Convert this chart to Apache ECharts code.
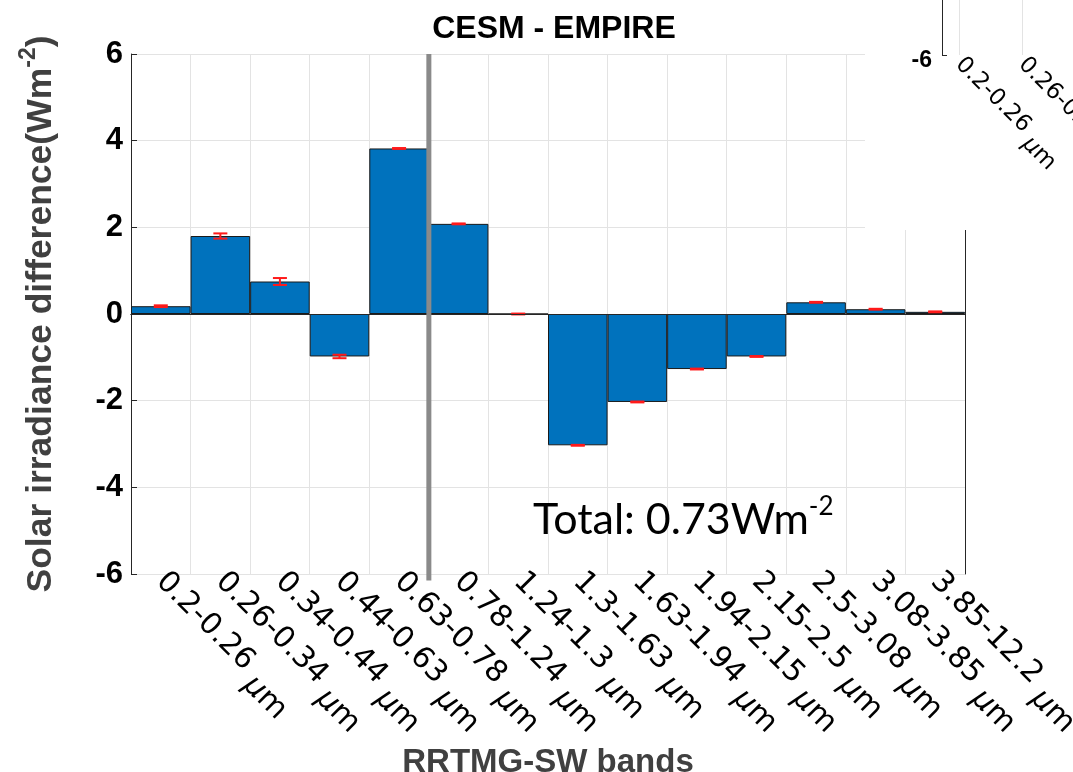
<!DOCTYPE html>
<html>
<head>
<meta charset="utf-8">
<script src="https://cdn.jsdelivr.net/npm/echarts@6/dist/echarts.min.js"></script>
<style>
  html, body { margin: 0; padding: 0; background: #ffffff; }
  #chart { width: 1073px; height: 772px; }
</style>
</head>
<body>
<div id="chart"></div>
<script>
// RRTMG shortwave bands (µm)
const bands = ['0.2-0.26', '0.26-0.34', '0.34-0.44', '0.44-0.63', '0.63-0.78', '0.78-1.24', '1.24-1.3',
               '1.3-1.63', '1.63-1.94', '1.94-2.15', '2.15-2.5', '2.5-3.08', '3.08-3.85', '3.85-12.2'];
// CESM minus EMPIRE solar irradiance difference per band (W m-2)
const diff = [0.18, 1.80, 0.75, -0.98, 3.82, 2.08, 0.00, -3.03, -2.03, -1.27, -0.98, 0.27, 0.11, 0.05];
// half-length of the error bar per band
const spread = [0.02, 0.06, 0.08, 0.04, 0.01, 0.01, 0.01, 0.01, 0.01, 0.01, 0.01, 0.01, 0.01, 0.01];
// y-axis range and step
const yRange = [-6, 6];
const yStep = 2;
// band boundary where the vertical divider sits
const dividerAt = 5;
const totalText = 'Total: 0.73Wm';

const AX = '#262626';
const GRID = '#e3e3e3';

function bandLabel(v, big) {
  return '{n' + big + '|' + v + ' }{u' + big + '|μ}{m' + big + '|m}';
}
// the unit part sits a little below the band numbers
function labelRich(size, shift) {
  const base = { fontFamily: 'DejaVu Sans', fontSize: size, color: '#000', lineHeight: size + 4 + 2 * shift, verticalAlign: 'middle' };
  const low = { fontFamily: 'DejaVu Sans', fontSize: size, color: '#000', lineHeight: size + 4, verticalAlign: 'bottom' };
  return { base, low: low, ital: Object.assign({}, low, { fontStyle: 'italic' }) };
}
const rBig = labelRich(30, 10);
const rSmall = labelRich(23, 7);

const errData = diff.map((v, i) => [i, v, spread[i]]);
const insetTicks = bands.map((b, i) => i + 1);

const chart = echarts.init(document.getElementById('chart'), null, { renderer: 'canvas' });

chart.setOption({
  animation: false,
  backgroundColor: '#ffffff',
  title: [
    {
      text: 'CESM - EMPIRE',
      left: 549, top: 8, textAlign: 'center',
      textStyle: { fontFamily: 'Liberation Sans', fontWeight: 'bold', fontSize: 32, color: '#000' }
    },
    {
      text: '{a|' + totalText + '}{b|-2}',
      left: 528, top: 489,
      textStyle: {
        fontWeight: 'normal',
        rich: {
          a: { fontFamily: 'Lato', fontWeight: 'normal', fontSize: 43, color: '#000', lineHeight: 48, verticalAlign: 'bottom' },
          b: { fontFamily: 'Lato', fontWeight: 'normal', fontSize: 26, color: '#000', lineHeight: 48, verticalAlign: 'top' }
        }
      }
    }
  ],
  graphic: [
    {
      type: 'rect', z: 50,
      shape: { x: 865, y: 0, width: 208, height: 230 },
      style: { fill: '#ffffff' }
    }
  ],
  grid: [
    { left: 131, top: 54, width: 834, height: 520, outerBoundsMode: 'none', containLabel: false },
    { left: 942, top: -545, width: 1000, height: 600, outerBoundsMode: 'none', containLabel: false }
  ],
  xAxis: [
    {
      type: 'category', gridIndex: 0, data: bands, position: 'bottom',
      axisLine: { lineStyle: { color: AX, width: 1 } },
      axisTick: { inside: true, length: 6, alignWithLabel: true, lineStyle: { color: AX } },
      splitLine: { show: true, lineStyle: { color: GRID, width: 1 } },
      axisLabel: {
        interval: 0, rotate: -45, margin: 3,
        formatter: v => bandLabel(v, 'B'),
        rich: { nB: rBig.base, uB: rBig.ital, mB: rBig.low }
      },
      name: 'RRTMG-SW bands', nameLocation: 'middle', nameGap: 168,
      nameTextStyle: { fontFamily: 'Liberation Sans', fontWeight: 'bold', fontSize: 33, color: '#404040' }
    },
    {
      type: 'category', gridIndex: 0, data: bands, position: 'top',
      axisLine: { lineStyle: { color: AX, width: 1 } },
      axisTick: { inside: true, length: 6, alignWithLabel: true, lineStyle: { color: AX } },
      axisLabel: { show: false }, splitLine: { show: false }
    },
    {
      type: 'value', gridIndex: 0, min: 0, max: bands.length, show: false
    },
    {
      type: 'value', gridIndex: 1, min: 0.73, max: 16.6, z: 60,
      axisLine: { lineStyle: { color: AX, width: 1 } },
      axisTick: { inside: true, length: 5, customValues: insetTicks, lineStyle: { color: AX } },
      splitLine: { show: true, lineStyle: { color: GRID } },
      axisLabel: {
        rotate: -45, margin: 6,
        customValues: insetTicks,
        formatter: v => bands[Math.round(v) - 1] ? bandLabel(bands[Math.round(v) - 1], 'S') : '',
        rich: { nS: rSmall.base, uS: rSmall.ital, mS: rSmall.low }
      }
    }
  ],
  yAxis: [
    {
      type: 'value', gridIndex: 0, min: yRange[0], max: yRange[1], interval: yStep,
      axisLine: { show: true, lineStyle: { color: AX, width: 1 } },
      axisTick: { show: true, inside: true, length: 6, lineStyle: { color: AX } },
      splitLine: { show: true, lineStyle: { color: GRID, width: 1 } },
      axisLabel: { fontFamily: 'Liberation Sans', fontWeight: 'bold', fontSize: 31, color: '#000', margin: 8 },
      name: '{t|Solar irradiance difference(Wm}{s|-2}{t|)}',
      nameLocation: 'middle', nameRotate: 90, nameGap: 72,
      nameTextStyle: {
        rich: {
          t: { fontFamily: 'Liberation Sans', fontWeight: 'bold', fontSize: 35.5, color: '#404040', lineHeight: 42, verticalAlign: 'bottom' },
          s: { fontFamily: 'Liberation Sans', fontWeight: 'bold', fontSize: 23, color: '#404040', lineHeight: 42, verticalAlign: 'top' }
        }
      }
    },
    {
      type: 'value', gridIndex: 0, min: yRange[0], max: yRange[1], interval: yStep, position: 'right',
      axisLine: { show: true, lineStyle: { color: AX, width: 1 } },
      axisTick: { show: false }, axisLabel: { show: false }, splitLine: { show: false }
    },
    {
      type: 'value', gridIndex: 1, min: yRange[0], max: yRange[1], interval: yStep, z: 60,
      axisLine: { show: true, lineStyle: { color: AX, width: 1 } },
      axisTick: { show: true, inside: true, length: 5, lineStyle: { color: AX } },
      splitLine: { show: false },
      axisLabel: {
        fontFamily: 'Liberation Sans', fontWeight: 'bold', fontSize: 23, color: '#000', margin: 10,
        verticalAlign: 'top', lineHeight: 12
      }
    }
  ],
  series: [
    {
      type: 'bar', xAxisIndex: 0, yAxisIndex: 0,
      data: diff, barWidth: '100%', barCategoryGap: 0,
      itemStyle: { color: '#0072BD', borderColor: '#1a1a1a', borderWidth: 1 },
      markLine: {
        silent: true, symbol: 'none', label: { show: false },
        lineStyle: { color: AX, width: 1, type: 'solid' },
        data: [{ yAxis: 0 }]
      },
      z: 2
    },
    {
      type: 'custom', xAxisIndex: 0, yAxisIndex: 0, z: 4,
      data: errData,
      renderItem: (params, api) => {
        const i = api.value(0), v = api.value(1), e = api.value(2);
        const hi = api.coord([i, v + e]);
        const lo = api.coord([i, v - e]);
        const w = 7;
        const style = { stroke: '#ff1a1a', lineWidth: 2, fill: null };
        return {
          type: 'group',
          children: [
            { type: 'line', shape: { x1: hi[0], y1: hi[1], x2: lo[0], y2: lo[1] }, style },
            { type: 'line', shape: { x1: hi[0] - w, y1: hi[1], x2: hi[0] + w, y2: hi[1] }, style },
            { type: 'line', shape: { x1: lo[0] - w, y1: lo[1], x2: lo[0] + w, y2: lo[1] }, style }
          ]
        };
      }
    },
    {
      type: 'line', xAxisIndex: 2, yAxisIndex: 0, z: 5,
      data: [[dividerAt, yRange[1]], [dividerAt, yRange[0] - 0.15]],
      symbol: 'none', clip: false,
      lineStyle: { color: '#8a8a8a', width: 5 }
    }
  ]
});
</script>
</body>
</html>
